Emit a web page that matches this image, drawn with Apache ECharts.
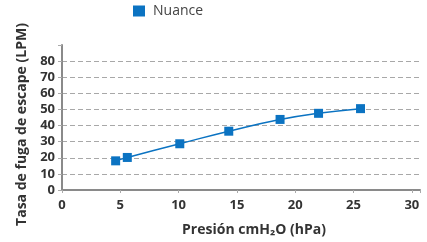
<!DOCTYPE html>
<html>
<head>
<meta charset="utf-8">
<script src="https://cdn.jsdelivr.net/npm/echarts@6/dist/echarts.min.js"></script>
<style>
  html, body { margin: 0; padding: 0; background: #fff; }
  #chart { width: 427px; height: 242px; }
</style>
</head>
<body>
<div id="chart"></div>
<script>
const pressure = [4.6, 5.6, 10.1, 14.3, 18.7, 22.0, 25.6];
const leakRate = [18.1, 20.2, 28.7, 36.5, 43.8, 47.6, 50.5];
const seriesName = "Nuance";

const chart = echarts.init(document.getElementById("chart"));
const font = "'Open Sans', Lato, sans-serif";
const blue = "#0b73c2";

chart.setOption({
  animation: false,
  legend: {
    top: 4,
    left: 133,
    padding: 0,
    itemWidth: 12,
    itemHeight: 11,
    icon: "rect",
    textStyle: { fontFamily: font, fontSize: 14, color: "#444", padding: [0, 0, 0, 3] },
    data: [seriesName]
  },
  grid: { left: 62, right: 7, top: 45, bottom: 50 },
  xAxis: {
    type: "value",
    min: 0,
    max: 30.7,
    interval: 5,
    name: "Presión cmH₂O (hPa)",
    nameLocation: "middle",
    nameGap: 33,
    nameTextStyle: {
      fontFamily: font, fontSize: 14, fontWeight: "bold", color: "#333",
      padding: [0, 0, 0, 26]
    },
    axisLine: { lineStyle: { color: "#8a8a8a", width: 2 } },
    axisTick: { show: true, length: 3, lineStyle: { color: "#aaa" } },
    axisLabel: {
      margin: 9,
      fontFamily: font, fontSize: 13, fontWeight: "bold", color: "#333",
      formatter: v => (v % 5 === 0 ? String(v) : "")
    },
    splitLine: { show: false }
  },
  yAxis: {
    type: "value",
    min: 0,
    max: 90,
    interval: 10,
    name: "Tasa de fuga de escape (LPM)",
    nameLocation: "middle",
    nameGap: 33,
    nameTextStyle: {
      fontFamily: font, fontSize: 14, fontWeight: "bold", color: "#333",
      padding: [0, 14, 0, 0]
    },
    axisLine: { show: true, lineStyle: { color: "#8a8a8a", width: 2 } },
    axisTick: { show: true, length: 4, lineStyle: { color: "#aaa" } },
    axisLabel: {
      margin: 7,
      fontFamily: font, fontSize: 13, fontWeight: "bold", color: "#333",
      formatter: v => (v <= 80 ? String(v) : "")
    },
    splitLine: {
      show: true,
      showMinLine: false,
      showMaxLine: false,
      lineStyle: { color: "#a8a8a8", type: [5, 3], width: 1 }
    }
  },
  series: [
    {
      name: seriesName,
      type: "line",
      smooth: true,
      data: pressure.map((p, i) => [p, leakRate[i]]),
      symbol: "rect",
      symbolSize: 9,
      itemStyle: { color: blue },
      lineStyle: { color: blue, width: 1.5 }
    }
  ]
});
</script>
</body>
</html>
